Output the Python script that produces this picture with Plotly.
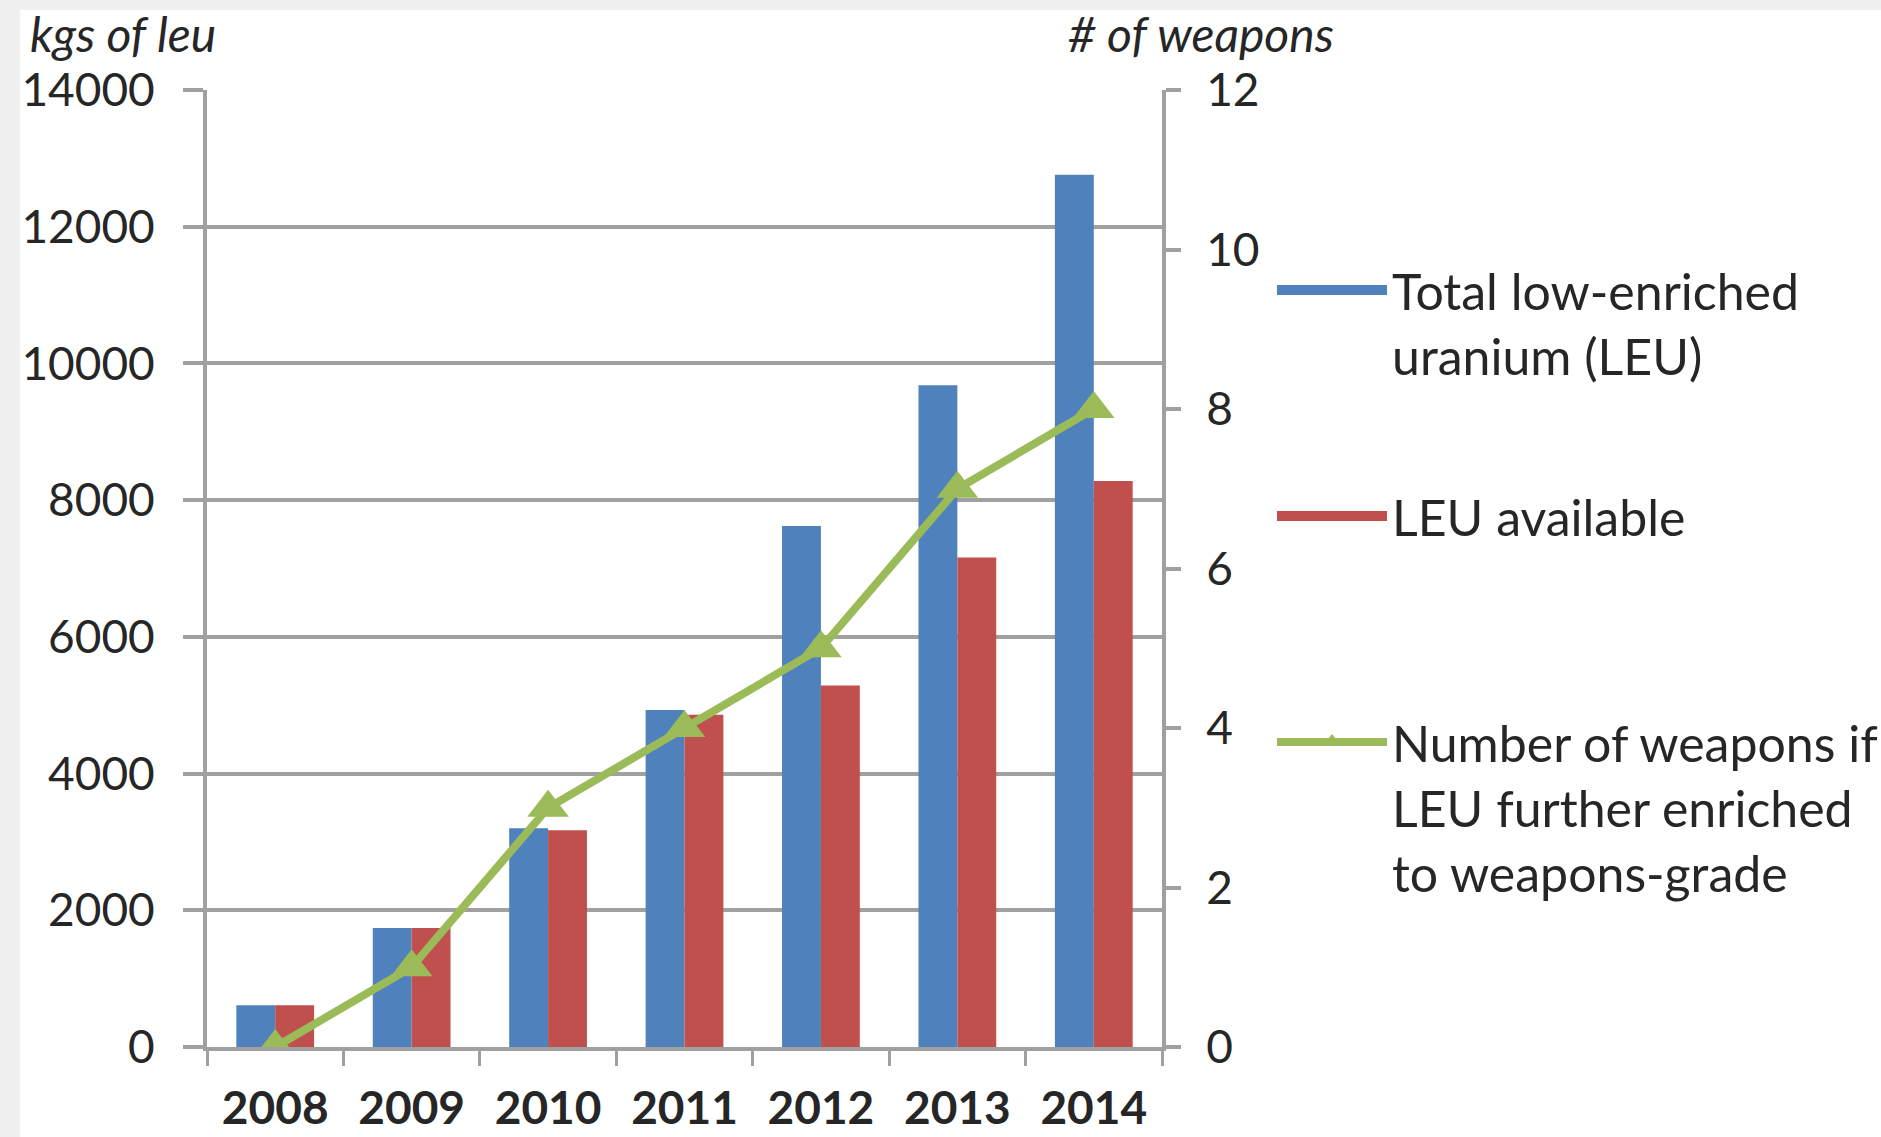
import plotly.graph_objects as go

years = ["2008", "2009", "2010", "2011", "2012", "2013", "2014"]
total_leu = [610, 1740, 3200, 4930, 7620, 9680, 12760]
leu_available = [610, 1740, 3170, 4860, 5290, 7160, 8280]
weapons = [0, 1, 3, 4, 5, 7, 8]

left_ticks = [0, 2000, 4000, 6000, 8000, 10000, 12000, 14000]
right_ticks = [0, 2, 4, 6, 8, 10, 12]

BLUE = "#4F81BD"
RED = "#C0504D"
GREEN = "#9BBB59"
GRID = "#A0A0A0"
TXT = "#262626"
FONT = "Lato"

W, H = 1881, 1137
L, R, T, B = 207, 1162, 90, 1047  # plot area pixel box


def px(x):
    return (x - L) / (R - L)


def py(y):
    return (B - y) / (B - T)


def cx(x):
    return x / W


def cy(y):
    return 1 - y / H


fig = go.Figure()
fig.add_trace(go.Bar(x=years, y=total_leu, name="Total low-enriched<br>uranium (LEU)",
                     marker=dict(color=BLUE, line=dict(width=0)), showlegend=False))
fig.add_trace(go.Bar(x=years, y=leu_available, name="LEU available",
                     marker=dict(color=RED, line=dict(width=0)), showlegend=False))
fig.add_trace(go.Scatter(x=years, y=weapons, yaxis="y2", mode="lines+markers",
                         name="Number of weapons if<br>LEU further enriched<br>to weapons-grade",
                         line=dict(color=GREEN, width=8),
                         marker=dict(symbol="triangle-up", size=36, color=GREEN),
                         legend="legend3"))
# legend swatches for the bar series
fig.add_trace(go.Scatter(x=[None], y=[None], mode="lines", name="Total low-enriched<br>uranium (LEU)",
                         line=dict(color=BLUE, width=34), legend="legend"))
fig.add_trace(go.Scatter(x=[None], y=[None], mode="lines", name="LEU available",
                         line=dict(color=RED, width=34), legend="legend2"))

legend_common = dict(font=dict(family=FONT, size=50, color=TXT), bgcolor="rgba(0,0,0,0)",
                     xref="container", yref="container",
                     xanchor="left", yanchor="top", itemwidth=110, valign="top",
                     itemclick=False, itemdoubleclick=False, tracegroupgap=0)

fig.update_layout(
    width=W, height=H,
    margin=dict(l=L, r=W - R, t=T, b=H - B, pad=0, autoexpand=False),
    paper_bgcolor="white", plot_bgcolor="white",
    barmode="group", bargap=0.43, bargroupgap=0,
    font=dict(family=FONT, color=TXT),
    xaxis=dict(type="category", categoryorder="array", categoryarray=years, range=[-0.5, 6.5],
               showline=True, linecolor=GRID, linewidth=4, ticks="outside", tickson="boundaries",
               ticklen=15, tickwidth=3, tickcolor=GRID, showgrid=False, automargin=False,
               tickfont=dict(family=FONT, size=46, color=TXT, weight="bold"), ticklabelstandoff=18),
    yaxis=dict(range=[0, 14000], tickvals=left_ticks, tickformat="d", showgrid=True, gridcolor=GRID,
               gridwidth=4, showline=True, linecolor=GRID, linewidth=4, ticks="outside", ticklen=20,
               tickwidth=4, tickcolor=GRID, zeroline=False, automargin=False,
               tickfont=dict(family=FONT, size=46, color=TXT), ticklabelstandoff=19),
    yaxis2=dict(range=[0, 12], tickvals=right_ticks, overlaying="y", side="right", showgrid=False,
                showline=True, linecolor=GRID, linewidth=4, ticks="outside", ticklen=15, tickwidth=4,
                tickcolor=GRID, zeroline=False, automargin=False,
                tickfont=dict(family=FONT, size=46, color=TXT), ticklabelstandoff=16),
    legend=dict(x=cx(1272), y=cy(251), **legend_common),
    legend2=dict(x=cx(1272), y=cy(477), **legend_common),
    legend3=dict(x=cx(1272), y=cy(703), **legend_common),
    annotations=[
        dict(text="<i>kgs of leu</i>", xref="paper", yref="paper", x=px(28), y=py(34),
             xanchor="left", yanchor="middle", showarrow=False,
             font=dict(family=FONT, size=48, color=TXT)),
        dict(text="<i># of weapons</i>", xref="paper", yref="paper", x=px(1066), y=py(34),
             xanchor="left", yanchor="middle", showarrow=False,
             font=dict(family=FONT, size=48, color=TXT)),
    ],
    shapes=[
        dict(type="rect", xref="paper", yref="paper", x0=px(0), x1=px(20), y0=py(H), y1=py(0),
             fillcolor="#F0F0F0", line=dict(width=0), layer="below"),
        dict(type="rect", xref="paper", yref="paper", x0=px(0), x1=px(W), y0=py(10), y1=py(0),
             fillcolor="#F0F0F0", line=dict(width=0), layer="below"),
    ],
)

fig.write_html("out.html", config={"displayModeBar": False},
               post_script="document.body.style.margin='0';document.body.style.overflow='hidden';")
